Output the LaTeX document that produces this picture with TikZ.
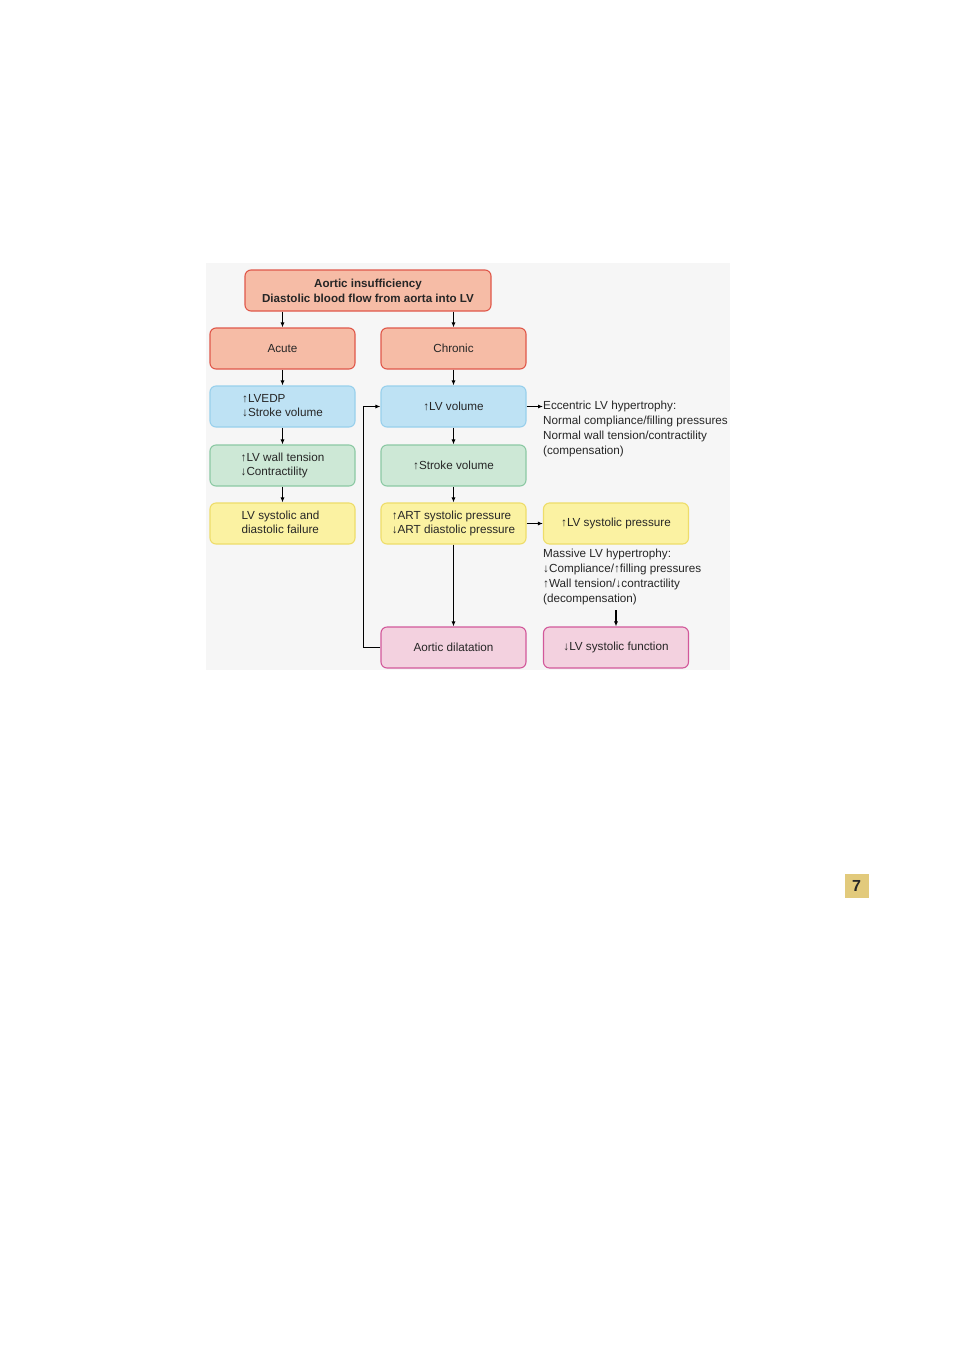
\documentclass[tikz,border=0pt]{standalone}
\usepackage{fontspec}
\setmainfont{Liberation Sans}
\usetikzlibrary{arrows.meta}
\definecolor{bgc}{HTML}{F6F6F6}
\definecolor{redf}{HTML}{F6BCA6}
\definecolor{redd}{HTML}{E0584A}
\definecolor{bluef}{HTML}{BEE2F4}
\definecolor{blued}{HTML}{98D0EC}
\definecolor{greenf}{HTML}{CDE8D6}
\definecolor{greend}{HTML}{8CC9A4}
\definecolor{yelf}{HTML}{FBF2A2}
\definecolor{yeld}{HTML}{EEDD6A}
\definecolor{pinkf}{HTML}{F3D1DF}
\definecolor{pinkd}{HTML}{D2589A}
\definecolor{txt}{HTML}{262626}
\definecolor{badge}{HTML}{E2CA7C}
\begin{document}
\begin{tikzpicture}[x=1pt,y=-1pt,
  box/.style={draw, line width=1.1pt, rounded corners=6pt, minimum width=145pt, minimum height=41pt, inner sep=0pt, text=txt, font=\fontsize{11.7}{14.5}\selectfont, align=center},
  rbox/.style={box, fill=redf, draw=redd},
  bbox/.style={box, fill=bluef, draw=blued},
  gbox/.style={box, fill=greenf, draw=greend},
  ybox/.style={box, fill=yelf, draw=yeld},
  pbox/.style={box, fill=pinkf, draw=pinkd},
  note/.style={anchor=north west, inner sep=0pt, text=txt, align=left, font=\fontsize{11.7}{15}\selectfont},
  arr/.style={-{Latex[length=5pt,width=4pt]}, line width=1.2pt, black}]
\useasboundingbox (0,0) rectangle (953,1350);
\fill[white] (0,0) rectangle (953,1350);
\fill[bgc] (206,263) rectangle (730,670);

\node[rbox, minimum width=246pt, font=\bfseries\fontsize{11.6}{15}\selectfont] (top) at (368,290.5) {Aortic insufficiency\\Diastolic blood flow from aorta into LV};
\node[rbox] (acute) at (282.5,348.5) {Acute};
\node[rbox] (chronic) at (453.5,348.5) {Chronic};
\node[bbox] (lvedp) at (282.5,406.5) {\begin{tabular}{@{}l@{}}↑LVEDP\\↓Stroke volume\end{tabular}};
\node[bbox] (lvvol) at (453.5,406.5) {↑LV volume};
\node[gbox] (wall) at (282.5,465.5) {\begin{tabular}{@{}l@{}}↑LV wall tension\\↓Contractility\end{tabular}};
\node[gbox] (sv) at (453.5,465.5) {↑Stroke volume};
\node[ybox] (fail) at (282.5,523.5) {\begin{tabular}{@{}l@{}}LV systolic and\\diastolic failure\end{tabular}\hspace*{4pt}};
\node[ybox] (art) at (453.5,523.5) {\begin{tabular}{@{}l@{}}↑ART systolic pressure\\↓ART diastolic pressure\end{tabular}};
\node[ybox] (lvsp) at (616,523.5) {↑LV systolic pressure};
\node[pbox] (dil) at (453.5,647.5) {Aortic dilatation};
\node[pbox] (lvsf) at (616,647.5) {↓LV systolic function};

\node[note] (ecc) at (543,401) {Eccentric LV hypertrophy:\\Normal compliance/filling pressures\\Normal wall tension/contractility\\(compensation)};
\node[note] (mass) at (543,548.5) {Massive LV hypertrophy:\\↓Compliance/↑filling pressures\\↑Wall tension/↓contractility\\(decompensation)};

\draw[arr] (top.south -| acute) -- (acute);
\draw[arr] (top.south -| chronic) -- (chronic);
\draw[arr] (acute) -- (lvedp);
\draw[arr] (lvedp) -- (wall);
\draw[arr] (wall) -- (fail);
\draw[arr] (chronic) -- (lvvol);
\draw[arr] (lvvol) -- (sv);
\draw[arr] (sv) -- (art);
\draw[arr] (art) -- (dil);
\draw[arr] (art) -- (lvsp);
\draw[arr] (lvvol.east) -- (ecc.west |- lvvol.east);
\coordinate (mb) at (616,610);
\draw[arr] (mb) -- (lvsf);
\draw[arr] (dil.west) -- ++(-17,0) |- (lvvol.west);

\node[fill=badge, minimum width=24pt, minimum height=24pt, inner sep=0pt, font=\bfseries\fontsize{16}{16}\selectfont, text=txt] (badge) at (856.5,886) {7};
\end{tikzpicture}
\end{document}
